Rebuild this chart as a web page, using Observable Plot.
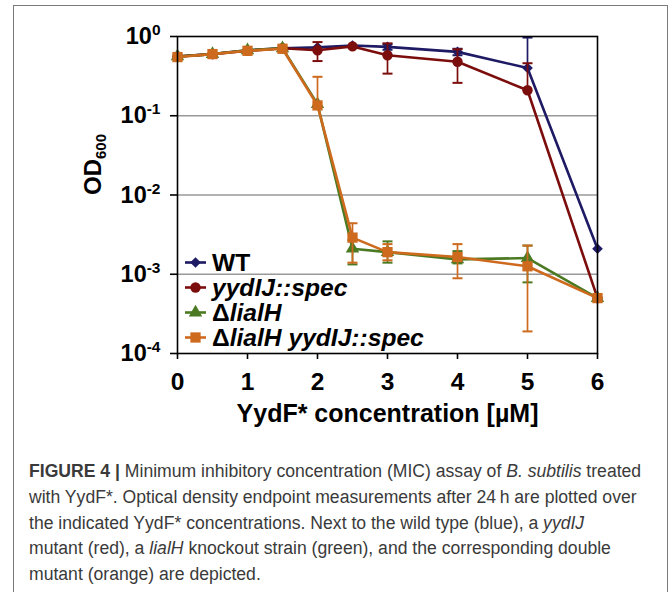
<!DOCTYPE html>
<html>
<head>
<meta charset="utf-8">
<script src="https://cdn.jsdelivr.net/npm/d3@7"></script>
<script src="https://cdn.jsdelivr.net/npm/@observablehq/plot@0.6"></script>
<style>
  body { margin: 0; background: #fff; }
  #wrap { position: relative; width: 669px; height: 592px; overflow: hidden; font-family: "Liberation Sans", Arial, sans-serif; }
  #border { position: absolute; left: 13px; top: 5px; width: 655px; height: 700px; border: 1.5px solid #7a7a7a; box-sizing: border-box; }
  #chart { position: absolute; left: 0; top: 0; }
  #legend { position: absolute; left: 0; top: 0; }
  .lg-row { position: absolute; left: 184px; height: 25px; display: flex; align-items: center; font-size: 24.6px; font-weight: bold; line-height: 25px; color: #000; white-space: nowrap; }
  .lg-row svg { margin-right: 5px; }
  #caption { position: absolute; left: 29px; top: 459px; font-size: 17.6px; line-height: 25.8px; color: #3a3a3a; white-space: nowrap; }
</style>
</head>
<body>
<div id="wrap">
  <div id="border"></div>
  <div id="chart"></div>
  <div id="legend"></div>
  <div id="caption"><b>FIGURE 4 |</b> Minimum inhibitory concentration (MIC) assay of <i>B. subtilis</i> treated<br>with YydF*. Optical density endpoint measurements after 24&#8201;h are plotted over<br>the indicated YydF* concentrations. Next to the wild type (blue), a <i>yydIJ</i><br>mutant (red), a <i>lialH</i> knockout strain (green), and the corresponding double<br>mutant (orange) are depicted.</div>
</div>
<script>
// ---- data ----
const conc = [0, 0.5, 1, 1.5, 2, 2.5, 3, 4, 5, 6];
const seriesNames = ["WT", "yydIJ::spec", "ΔlialH", "ΔlialH yydIJ::spec"];
const odWT     = [0.56, 0.60, 0.67, 0.71, 0.73, 0.77, 0.74, 0.64, 0.40, 0.0021];
const odYydIJ  = [0.56, 0.60, 0.66, 0.71, 0.67, 0.75, 0.58, 0.48, 0.21, 0.0005];
const odLialH  = [0.56, 0.60, 0.67, 0.71, 0.14, 0.0021, 0.0019, 0.00154, 0.00160, 0.0005];
const odDouble = [0.55, 0.60, 0.66, 0.70, 0.135, 0.0029, 0.0019, 0.00165, 0.00126, 0.0005];
const loWT     = [null, null, null, null, null, null, 0.68, 0.58, null, null];
const hiWT     = [null, null, null, null, null, null, 0.80, 0.70, 0.97, null];
const loYydIJ  = [null, null, null, null, 0.49, null, 0.34, 0.26, null, null];
const hiYydIJ  = [null, null, null, null, 0.85, null, 0.82, 0.69, 0.46, null];
const loLialH  = [null, null, null, null, null, 0.00133, 0.0014, 0.00137, 0.00079, null];
const hiLialH  = [null, null, null, null, null, 0.0027, 0.0026, 0.00196, 0.0023, null];
const loDouble = [null, null, null, null, null, 0.0014, 0.0015, 0.00089, 0.00019, null];
const hiDouble = [null, null, null, null, 0.31, 0.0044, 0.0024, 0.0024, 0.0023, null];
const yTicks = [1e-4, 1e-3, 1e-2, 1e-1, 1];
const yGrid = [1e-3, 1e-2, 1e-1];
const xTicks = [0, 1, 2, 3, 4, 5, 6];
const xTitle = "YydF* concentration [µM]";
const yTitle = "OD600";

// ---- styles ----
const styles = {
  "WT":                 {color: "#1e1a64", symbol: "diamond2", r: 4.8},
  "yydIJ::spec":        {color: "#7c0d0d", symbol: "circle",   r: 5.2},
  "ΔlialH":             {color: "#4b7a22", symbol: "triangle", r: 5.0},
  "ΔlialH yydIJ::spec": {color: "#cd6a1d", symbol: "square",   r: 5.8}
};
const seriesData = [
  {name: seriesNames[0], od: odWT, lo: loWT, hi: hiWT},
  {name: seriesNames[1], od: odYydIJ, lo: loYydIJ, hi: hiYydIJ},
  {name: seriesNames[2], od: odLialH, lo: loLialH, hi: hiLialH},
  {name: seriesNames[3], od: odDouble, lo: loDouble, hi: hiDouble}
];
const rows = seriesData.flatMap(s => conc.map((c, i) => ({series: s.name, c, od: s.od[i], lo: s.lo[i], hi: s.hi[i]})));

const cap = { draw(ctx, size) { const w = Math.sqrt(size / Math.PI); ctx.moveTo(-w, 0); ctx.lineTo(w, 0); } };

const marks = [Plot.ruleY(yGrid, {stroke: "#999", strokeWidth: 1.5})];
for (const s of seriesData) {
  const st = styles[s.name];
  const data = rows.filter(r => r.series === s.name);
  const err = data.filter(r => r.lo != null || r.hi != null);
  marks.push(Plot.ruleX(err, {x: "c", y1: r => r.lo ?? r.od, y2: r => r.hi ?? r.od, stroke: st.color, strokeWidth: 1.7}));
  marks.push(Plot.dot(err.filter(r => r.lo != null), {x: "c", y: "lo", symbol: cap, r: 5, stroke: st.color, fill: "none", strokeWidth: 2}));
  marks.push(Plot.dot(err.filter(r => r.hi != null), {x: "c", y: "hi", symbol: cap, r: 5, stroke: st.color, fill: "none", strokeWidth: 2}));
  marks.push(Plot.line(data, {x: "c", y: "od", stroke: st.color, strokeWidth: 2.6}));
  marks.push(Plot.dot(data, {x: "c", y: "od", symbol: st.symbol, r: st.r, fill: st.color, stroke: "none"}));
}
marks.push(Plot.frame({stroke: "#000", strokeWidth: 1.6}));
marks.push(Plot.axisY({ticks: yTicks, tickSize: 7, tickPadding: 10, tickFormat: d => "10^" + Math.round(Math.log10(d)),
  fontSize: 23.5, fontWeight: "bold", label: null, strokeWidth: 1.6}));
marks.push(Plot.axisX({ticks: xTicks, tickSize: 6, tickPadding: 13, tickFormat: d => String(d), fontSize: 24.5, fontWeight: "bold", label: null, strokeWidth: 1.6}));
marks.push(Plot.text([xTitle], {frameAnchor: "bottom", dy: 60, text: d => d, fontSize: 25, fontWeight: "bold", lineAnchor: "middle", fill: "#000"}));
marks.push(Plot.text([yTitle], {frameAnchor: "left", dx: -84, rotate: -90, text: d => d, fontSize: 24, fontWeight: "bold", lineAnchor: "middle", fill: "#000"}));

const svg = Plot.plot({
  width: 669, height: 440,
  marginLeft: 177, marginRight: 72, marginTop: 36, marginBottom: 87,
  style: {fontFamily: "'Liberation Sans', Arial, sans-serif", color: "#000", background: "transparent", overflow: "visible"},
  x: {domain: [0, 6]},
  y: {type: "log", domain: [1e-4, 1]},
  marks
});
document.getElementById("chart").appendChild(svg);

// superscripts on y tick labels
d3.select(svg).selectAll("text").filter(function () { return this.textContent.includes("^"); }).each(function () {
  const [b, e] = this.textContent.split("^");
  this.textContent = b;
  d3.select(this).append("tspan").attr("dy", -9).attr("font-size", 15.5).text(e);
});
// subscript on y title
d3.select(svg).selectAll("text").filter(function () { return this.textContent === yTitle; }).each(function () {
  const t = this.textContent;
  this.textContent = t.slice(0, 2);
  d3.select(this).append("tspan").attr("dy", 5).attr("font-size", 15).text(t.slice(2));
});

// legend
const legendCenters = [262, 287, 312, 337];
const leg = d3.select("#legend");
const symMap = {diamond2: d3.symbolDiamond2, circle: d3.symbolCircle, triangle: d3.symbolTriangle, square: d3.symbolSquare};
seriesNames.forEach((name, i) => {
  const st = styles[name];
  const row = leg.append("div").attr("class", "lg-row").style("top", (legendCenters[i] - 12.5) + "px");
  const s = row.append("svg").attr("width", 23).attr("height", 25);
  s.append("line").attr("x1", 1).attr("x2", 22).attr("y1", 12.5).attr("y2", 12.5).attr("stroke", st.color).attr("stroke-width", 2.6);
  s.append("path").attr("transform", "translate(11.5,12.5)").attr("fill", st.color)
    .attr("d", d3.symbol(symMap[st.symbol], Math.PI * st.r * st.r)());
  const label = name === "WT" ? "WT" : name.replace(/([^Δ]+)/, "<i>$1</i>");
  row.append("span").html(label);
});
</script>
</body>
</html>
